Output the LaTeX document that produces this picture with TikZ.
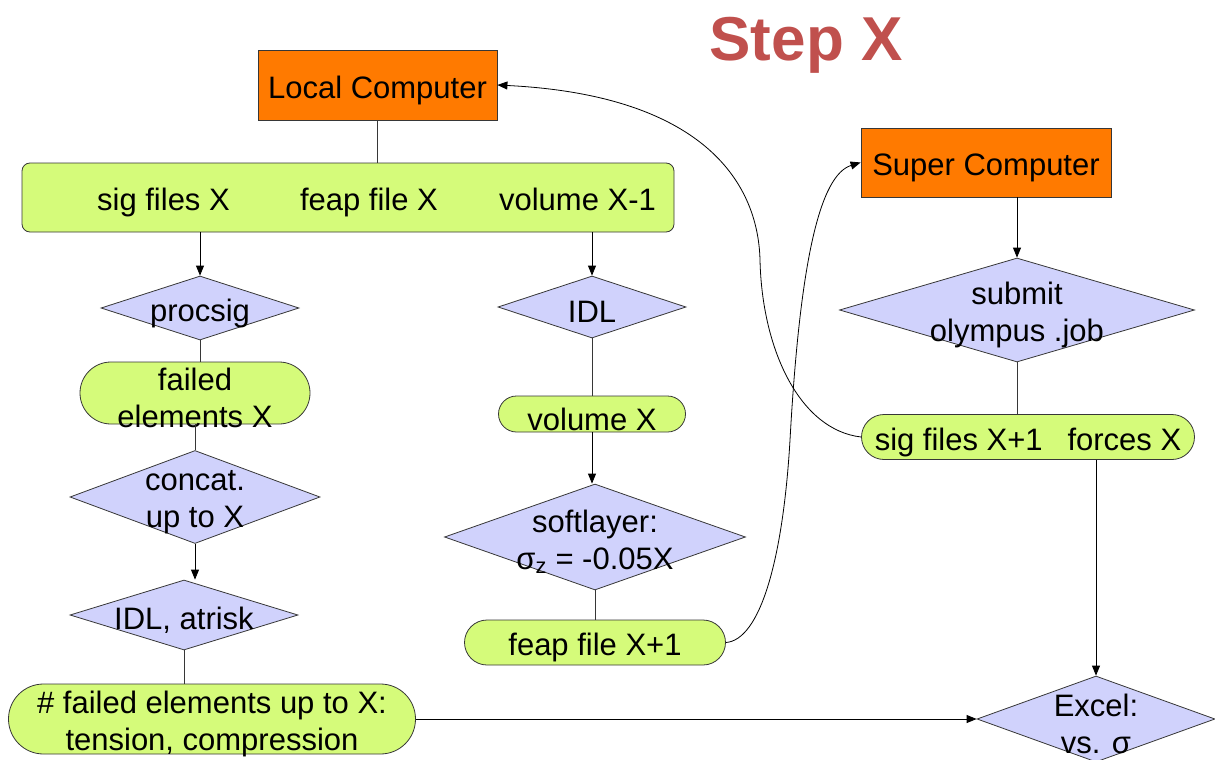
\documentclass[tikz,border=0pt]{standalone}
\usepackage{fontspec}
\setmainfont{Liberation Sans}
\usetikzlibrary{shapes.geometric,arrows.meta}
\definecolor{orangec}{RGB}{255,122,0}
\definecolor{greenc}{RGB}{213,251,122}
\definecolor{lavc}{RGB}{208,210,252}
\definecolor{titlec}{RGB}{192,80,77}
\definecolor{edgec}{RGB}{55,55,55}
\begin{document}
\begin{tikzpicture}[x=1pt,y=-1pt,
  every node/.style={font=\fontsize{31}{37}\selectfont},
  comp/.style={rectangle, draw=edgec, fill=orangec, line width=0.8pt, inner sep=0},
  dia/.style={diamond, draw=edgec, fill=lavc, line width=0.8pt, inner sep=0},
  pill/.style={rectangle, rounded corners=#1, draw=edgec, fill=greenc, line width=0.8pt, inner sep=0},
  tx/.style={label={[align=center,inner sep=0,yshift=-5pt]center:{#1}}},
  ln/.style={line width=0.8pt, draw=edgec},
  arr/.style={line width=0.8pt, draw=black, -{Triangle[length=10pt,width=8pt]}}
]
\useasboundingbox (0,0) rectangle (1215,760);

% title
\node[anchor=base, text=titlec, font=\fontsize{62}{70}\selectfont\bfseries] (title) at (806,60) {Step X};

% computers
\node[comp, minimum width=239pt, minimum height=70pt, tx={Local Computer}] (lc) at (377.5,85) {};
\node[comp, minimum width=250pt, minimum height=69pt, tx={Super Computer}] (sc) at (986,162.5) {};

% top bar
\node[pill=8pt, minimum width=652pt, minimum height=69pt] (bar) at (348,197.5) {};
\node[anchor=base] (t1) at (163.5,210) {sig files X};
\node[anchor=base] (t2) at (369,210) {feap file X};
\node[anchor=base] (t3) at (577.5,210) {volume X-1};

% left column
\node[dia, minimum width=198pt, minimum height=64pt, tx={procsig}] (procsig) at (200,308) {};
\node[pill=31pt, minimum width=230pt, minimum height=62pt, tx={failed\\elements X}] (failed) at (195,393) {};
\node[dia, minimum width=250pt, minimum height=93pt, tx={concat.\\up to X}] (concat) at (195,497) {};
\node[dia, minimum width=228pt, minimum height=70pt, tx={IDL, atrisk}] (atrisk) at (184,615) {};
\node[pill=35pt, minimum width=407pt, minimum height=70pt, tx={\# failed elements up to X:\\tension, compression}] (nfailed) at (212,719) {};

% middle column
\node[dia, minimum width=188pt, minimum height=62pt, tx={IDL}] (idl) at (592,307) {};
\node[pill=18pt, minimum width=187pt, minimum height=36pt, tx={volume X}] (volume) at (592,414) {};
\node[dia, minimum width=301pt, minimum height=106pt, tx={softlayer:\\σ\textsubscript{z} = -0.05X}] (soft) at (595,537) {};
\node[pill=22.5pt, minimum width=261pt, minimum height=45pt, tx={feap file X+1}] (feap) at (595,642.5) {};

% right column
\node[dia, minimum width=355pt, minimum height=104pt, tx={submit\\olympus .job}] (submit) at (1017,310) {};
\node[pill=22.5pt, minimum width=333pt, minimum height=45pt, tx={sig files X+1\hspace{0.8em}forces X}] (sigx) at (1028,437) {};
\node[dia, minimum width=238pt, minimum height=86pt, tx={Excel:\\vs. σ}] (excel) at (1096,719) {};

% connectors
\draw[ln] (lc.south) -- (lc.south |- bar.north);
\draw[arr] (procsig.north |- bar.south) -- (procsig.north);
\draw[arr] (idl.north |- bar.south) -- (idl.north);
\draw[ln] (procsig.south) -- (procsig.south |- failed.north);
\draw[ln] (failed.south) -- (failed.south |- concat.north);
\draw[arr] (concat.south) -- (concat.south |- atrisk.north);
\draw[ln] (atrisk.south) -- (atrisk.south |- nfailed.north);
\draw[ln] (idl.south) -- (idl.south |- volume.north);
\draw[arr] (volume.south) -- (volume.south |- soft.north);
\draw[ln] (soft.south) -- (soft.south |- feap.north);
\draw[arr] (submit.north |- sc.south) -- (submit.north);
\draw[ln] (submit.south) -- (submit.south |- sigx.north);
\draw[arr] (excel.north |- sigx.south) -- (excel.north);
\draw[arr] (nfailed.east) -- (excel.west);
\draw[arr] (feap.east) .. controls (760,640) and (783,560) .. (790,440)
  .. controls (800,260) and (820,175) .. (sc.west);
\draw[arr] (sigx.west) .. controls (800,430) and (762,350) .. (760,260)
  .. controls (758,180) and (700,95) .. (lc.east);
\end{tikzpicture}
\end{document}
